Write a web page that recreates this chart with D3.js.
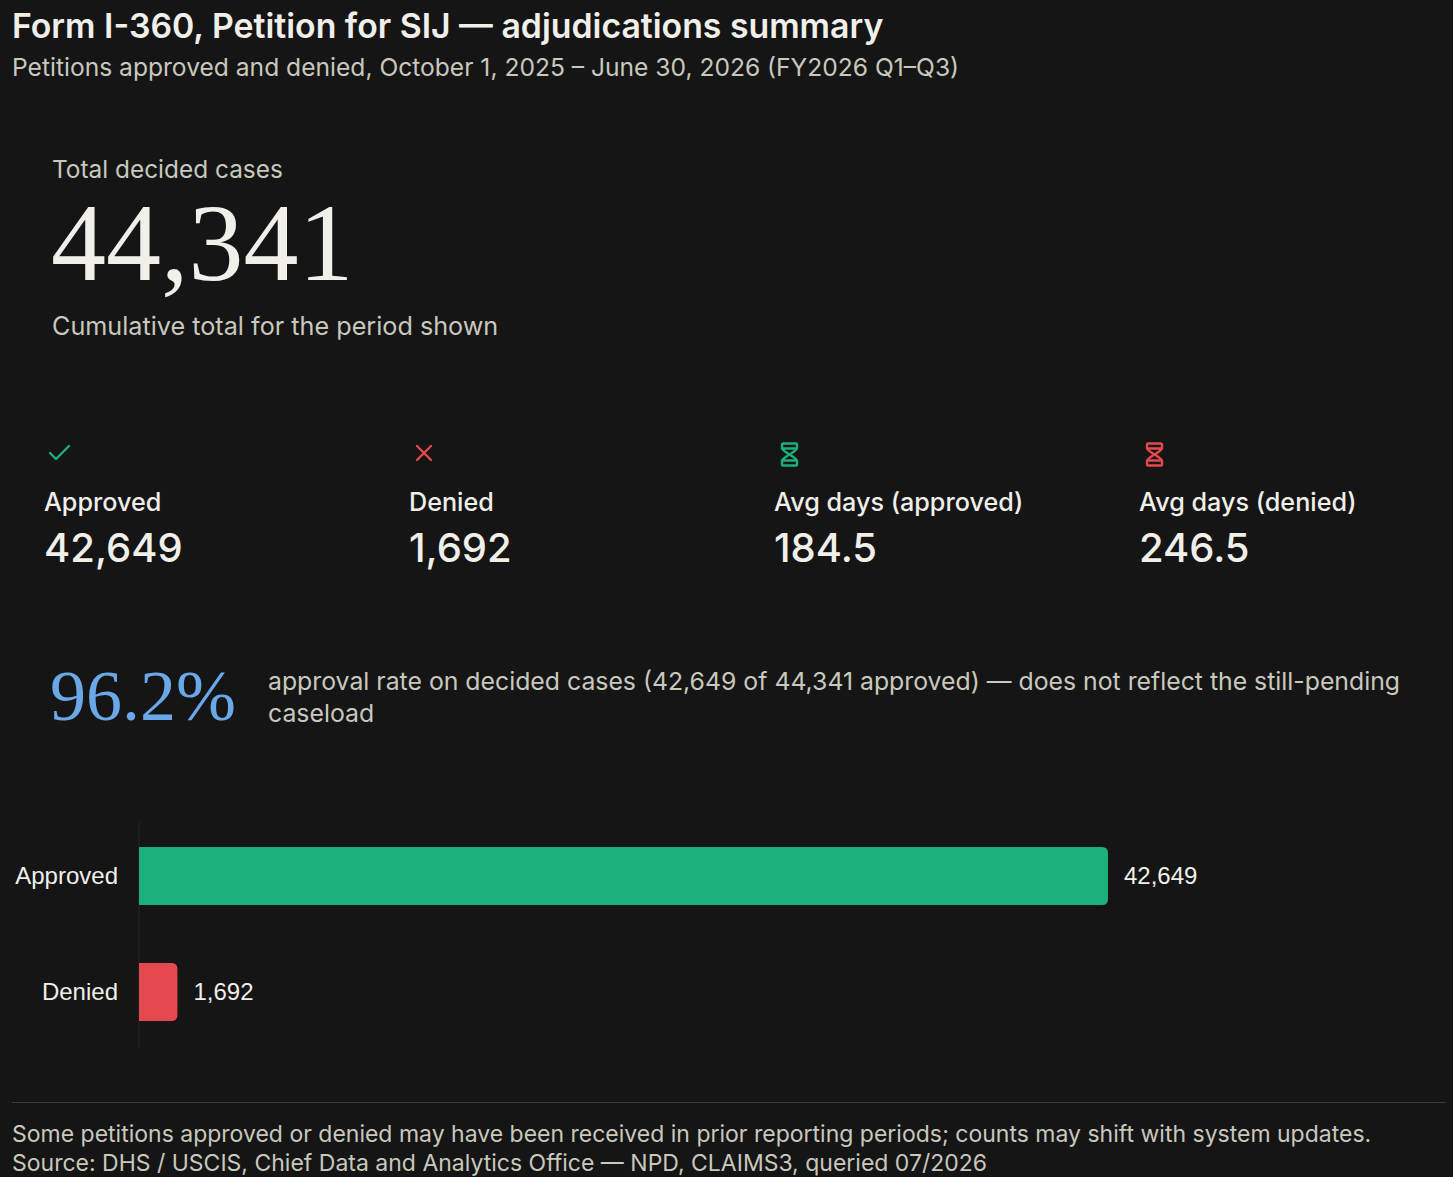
<!DOCTYPE html>
<html>
<head>
<meta charset="utf-8">
<script src="https://cdn.jsdelivr.net/npm/d3@7"></script>
<style>
  html, body { margin: 0; padding: 0; background: #151515; }
  svg { display: block; }
  .sans { font-family: Inter, "Noto Sans", sans-serif; }
  .serif { font-family: "Liberation Serif", "DejaVu Serif", serif; }
  .arial { font-family: "Liberation Sans", Arial, sans-serif; }
</style>
</head>
<body>
<svg id="chart"></svg>
<script>
const WIDTH = 1453, HEIGHT = 1177;

const TITLE = "Form I-360, Petition for SIJ \u2014 adjudications summary";
const SUBTITLE = "Petitions approved and denied, October 1, 2025 \u2013 June 30, 2026 (FY2026 Q1\u2013Q3)";

const totalCases = 44341;
const categories = ["Approved", "Denied"];
const counts = [42649, 1692];
const avgDays = [184.5, 246.5];
const approvalRate = 96.2;

const statLabels = ["Approved", "Denied", "Avg days (approved)", "Avg days (denied)"];
const statValues = ["42,649", "1,692", "184.5", "246.5"];
const statIcons = ["check", "cross", "hourglass", "hourglass"];

const footnotes = [
    "Some petitions approved or denied may have been received in prior reporting periods; counts may shift with system updates.",
    "Source: DHS / USCIS, Chief Data and Analytics Office \u2014 NPD, CLAIMS3, queried 07/2026"
];

const GREEN = "#1bb07a", RED = "#e5484d", BLUE = "#6aa8e8";
const TEXT = "#f0efe9", MUTED = "#c9c8bd";
const fmt = d3.format(",");

const svg = d3.select("#chart")
    .attr("width", WIDTH)
    .attr("height", HEIGHT);

svg.append("rect").attr("width", WIDTH).attr("height", HEIGHT).attr("fill", "#151515");

// header
svg.append("text").attr("class", "sans")
    .attr("x", 12).attr("y", 38)
    .attr("font-size", 33.8).attr("font-weight", 600).attr("fill", TEXT)
    .text(TITLE);
svg.append("text").attr("class", "sans")
    .attr("x", 12).attr("y", 76)
    .attr("font-size", 24.6).attr("fill", MUTED)
    .text(SUBTITLE);

// headline total
svg.append("text").attr("class", "sans")
    .attr("x", 52).attr("y", 178)
    .attr("font-size", 24.4).attr("fill", MUTED)
    .text("Total decided cases");
svg.append("text").attr("class", "serif")
    .attr("x", 51).attr("y", 280)
    .attr("font-size", 110).attr("fill", TEXT)
    .text(fmt(totalCases));
svg.append("text").attr("class", "sans")
    .attr("x", 52).attr("y", 335)
    .attr("font-size", 25.2).attr("fill", MUTED)
    .text("Cumulative total for the period shown");

// stat cards
const cardX = d3.scaleBand().domain(d3.range(4)).range([44, 44 + 365 * 4]);
const iconColor = [GREEN, RED, GREEN, RED];

const cards = svg.append("g").selectAll("g")
    .data(statLabels)
    .join("g")
    .attr("transform", (d, i) => `translate(${cardX(i)},0)`);

cards.each(function(d, i) {
    const g = d3.select(this);
    const icon = g.append("g")
        .attr("fill", "none")
        .attr("stroke", iconColor[i])
        .attr("stroke-width", 2.4)
        .attr("stroke-linecap", "round")
        .attr("stroke-linejoin", "round");
    if (statIcons[i] === "check") {
        icon.attr("transform", "translate(4,442)");
        icon.append("path").attr("d", "M2,11 L8,17 L21,4");
    } else if (statIcons[i] === "cross") {
        icon.attr("transform", "translate(4,442)");
        icon.append("path").attr("d", "M4,4 L18,18 M18,4 L4,18");
    } else {
        icon.attr("transform", "translate(7,442)");
        icon.append("path")
            .attr("d", "M2,1.5 H15 Q16,1.5 16,3 V6 Q16,8 8.5,12.5 Q1,8 1,6 V3 Q1,1.5 2,1.5 Z" +
                       "M2,23.5 H15 Q16,23.5 16,22 V19 Q16,17 8.5,12.5 Q1,17 1,19 V22 Q1,23.5 2,23.5 Z" +
                       "M1,6.5 H16 M1,18.5 H16");
    }
    g.append("text").attr("class", "sans")
        .attr("x", 0).attr("y", 511)
        .attr("font-size", 25.2).attr("font-weight", 500).attr("fill", TEXT)
        .text(d);
    g.append("text").attr("class", "sans")
        .attr("x", 0).attr("y", 562)
        .attr("font-size", 40).attr("font-weight", 500).attr("fill", TEXT)
        .text(statValues[i]);
});

// approval rate
svg.append("text").attr("class", "serif")
    .attr("x", 50).attr("y", 720)
    .attr("font-size", 72).attr("fill", BLUE)
    .text(approvalRate.toFixed(1) + "%");
const rateText = svg.append("text").attr("class", "sans")
    .attr("font-size", 24.8).attr("fill", MUTED);
rateText.append("tspan").attr("x", 268).attr("y", 690)
    .text(`approval rate on decided cases (${fmt(counts[0])} of ${fmt(totalCases)} approved) \u2014 does not reflect the still-pending`);
rateText.append("tspan").attr("x", 268).attr("y", 722)
    .text("caseload");

// bar chart
const x = d3.scaleLinear().domain([0, d3.max(counts)]).range([139, 1108]);
const y = d3.scaleBand().domain(categories).range([818, 1050]).paddingInner(0.5).paddingOuter(0.25);

svg.append("line")
    .attr("x1", x(0)).attr("x2", x(0))
    .attr("y1", 822).attr("y2", 1048)
    .attr("stroke", "#202020").attr("stroke-width", 1.5);

const r = 6;
function barPath(d, i) {
    const x0 = x(0), x1 = x(d), y0 = y(categories[i]), h = y.bandwidth();
    const rr = Math.min(r, (x1 - x0) / 2);
    return `M${x0},${y0} H${x1 - rr} Q${x1},${y0} ${x1},${y0 + rr} V${y0 + h - rr} Q${x1},${y0 + h} ${x1 - rr},${y0 + h} H${x0} Z`;
}

svg.append("g").selectAll("path")
    .data(counts)
    .join("path")
    .attr("d", barPath)
    .attr("fill", (d, i) => i === 0 ? GREEN : RED);

svg.append("g").selectAll("text")
    .data(counts)
    .join("text")
    .attr("class", "arial")
    .attr("x", d => x(d) + 16)
    .attr("y", (d, i) => y(categories[i]) + y.bandwidth() / 2)
    .attr("dy", "0.35em")
    .attr("font-size", 24).attr("fill", TEXT)
    .text(d => fmt(d));

svg.append("g").selectAll("text")
    .data(categories)
    .join("text")
    .attr("class", "arial")
    .attr("x", 118)
    .attr("y", d => y(d) + y.bandwidth() / 2)
    .attr("dy", "0.35em")
    .attr("text-anchor", "end")
    .attr("font-size", 24).attr("fill", TEXT)
    .text(d => d);

// footer
svg.append("line")
    .attr("x1", 12).attr("x2", 1446)
    .attr("y1", 1102.5).attr("y2", 1102.5)
    .attr("stroke", "#3a3a3a").attr("stroke-width", 1);

svg.append("g").selectAll("text")
    .data(footnotes)
    .join("text")
    .attr("class", "sans")
    .attr("x", 12)
    .attr("y", (d, i) => 1142 + i * 29)
    .attr("font-size", 23).attr("fill", MUTED)
    .text(d => d);
</script>
</body>
</html>
